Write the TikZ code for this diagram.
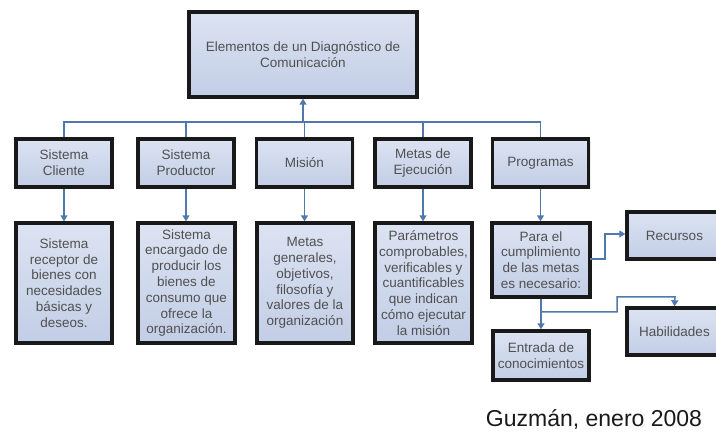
\documentclass[tikz,border=0pt]{standalone}
\usepackage{fontspec}
\setmainfont{Liberation Sans}
\usetikzlibrary{arrows.meta,shadows}
\definecolor{boxtop}{HTML}{DCE3F2}
\definecolor{boxbot}{HTML}{C2CEE6}
\definecolor{conncol}{HTML}{4F78AC}
\definecolor{txtgray}{HTML}{505050}
\tikzset{
  box/.style={draw=black!90, line width=3.4pt, top color=boxtop, bottom color=boxbot,
    text=txtgray, align=center, inner sep=0pt,
    font=\fontsize{13.5}{15.8}\selectfont,
    drop shadow={opacity=0.15, shadow xshift=2pt, shadow yshift=-2pt}},
  conn/.style={draw=conncol, line width=1.5pt},
  arr/.style={conn, -{Triangle[length=6pt,width=7pt]}},
}
\begin{document}
\begin{tikzpicture}[x=1pt,y=-1pt]
\useasboundingbox[fill=white] (0,0) rectangle (716,435);
% top
\node[box, minimum width=228pt, minimum height=85pt] (top) at (303,54.5)
  {Elementos de un Diagnóstico de\\Comunicación};
% row 2
\node[box, minimum width=96pt, minimum height=48pt] (sc) at (64,163) {Sistema\\Cliente};
\node[box, minimum width=96pt, minimum height=48pt] (sp) at (186,163) {Sistema\\Productor};
\node[box, minimum width=96pt, minimum height=48pt] (mi) at (304.5,163) {Misión};
\node[box, minimum width=96pt, minimum height=48pt] (me) at (423,163) {Metas de\\Ejecución};
\node[box, minimum width=96pt, minimum height=48pt] (pr) at (540.5,163) {Programas};
% row 3
\node[box, minimum width=96pt, minimum height=120pt] (d1) at (64,283)
  {Sistema\\receptor de\\bienes con\\necesidades\\básicas y\\deseos.};
\node[box, minimum width=97pt, minimum height=120pt] (d2) at (186.5,283)
  {Sistema\\encargado de\\producir los\\bienes de\\consumo que\\ofrece  la\\organización.};
\node[box, minimum width=96pt, minimum height=120pt] (d3) at (305,283)
  {Metas\\generales,\\objetivos,\\filosofía y\\valores de la\\organización};
\node[box, minimum width=97pt, minimum height=120pt] (d4) at (423.5,283)
  {Parámetros\\comprobables,\\verificables y\\cuantificables\\que indican\\cómo ejecutar\\la misión};
\node[box, minimum width=98pt, minimum height=74pt] (pa) at (541,260)
  {Para el\\cumplimiento\\de las metas\\es necesario:};
\node[box, minimum width=95pt, minimum height=47pt] (re) at (674.5,235.5) {Recursos};
\node[box, minimum width=95pt, minimum height=47pt] (ha) at (674.5,331.5) {Habilidades};
\node[box, minimum width=96pt, minimum height=49pt] (en) at (541,355.5) {Entrada de\\conocimientos};
% footer
\node[text=black!90, font=\fontsize{23}{26}\selectfont] (ft) at (594,420) {Guzmán, enero 2008};
% bus
\coordinate (bl) at (64,122);
\coordinate (br) at (540.5,122);
\coordinate (bm) at (303,122);
\draw[conn] (sc.north) -- (bl) -- (br) -- (pr.north);
\draw[conn] (sp.north) -- (sp.north |- bl);
\draw[conn] (mi.north) -- (mi.north |- bl);
\draw[conn] (me.north) -- (me.north |- bl);
\draw[arr] (bm) -- (top.south);
% row2 -> row3
\draw[arr] (sc.south) -- (d1.north);
\draw[arr] (sp.south) -- (sp.south |- d2.north);
\draw[arr] (mi.south) -- (mi.south |- d3.north);
\draw[arr] (me.south) -- (me.south |- d4.north);
\draw[arr] (pr.south) -- (pr.south |- pa.north);
% Para -> others
\coordinate (r1) at (590,259);
\coordinate (r2) at (605,259);
\coordinate (r3) at (605,234);
\draw[arr] (r1) -- (r2) -- (r3) -- (re.west |- r3);
\draw[arr] (pa.south) -- (en.north);
\coordinate (h1) at (541,312);
\coordinate (h2) at (617,312);
\coordinate (h3) at (617,297);
\coordinate (h4) at (675,297);
\draw[arr] (h1) -- (h2) -- (h3) -- (h4) -- (ha.north);
\end{tikzpicture}
\end{document}
